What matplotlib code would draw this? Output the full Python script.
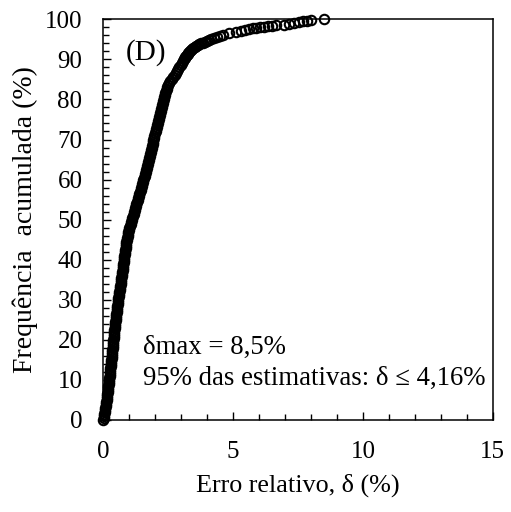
import matplotlib
matplotlib.use("Agg")
import matplotlib.pyplot as plt
from matplotlib.ticker import MultipleLocator

plt.rcParams['font.family'] = ['Liberation Serif', 'DejaVu Serif']

# Cumulative frequency (%) of the estimates and the matching relative error (%)
freq = [
    0, 0.5, 1, 1.5, 2, 2.5, 3, 3.5, 4, 4.5, 5, 5.5, 6, 6.5, 7, 7.5, 8, 8.5, 9, 9.5,
    10, 10.5, 11, 11.5, 12, 12.5, 13, 13.5, 14, 14.5, 15, 15.5, 16, 16.5, 17, 17.5,
    18, 18.5, 19, 19.5, 20, 20.5, 21, 21.5, 22, 22.5, 23, 23.5, 24, 24.5, 25, 25.5,
    26, 26.5, 27, 27.5, 28, 28.5, 29, 29.5, 30, 30.5, 31, 31.5, 32, 32.5, 33, 33.5,
    34, 34.5, 35, 35.5, 36, 36.5, 37, 37.5, 38, 38.5, 39, 39.5, 40, 40.5, 41, 41.5,
    42, 42.5, 43, 43.5, 44, 44.5, 45, 45.5, 46, 46.5, 47, 47.5, 48, 48.5, 49, 49.5,
    50, 50.5, 51, 51.5, 52, 52.5, 53, 53.5, 54, 54.5, 55, 55.5, 56, 56.5, 57, 57.5,
    58, 58.5, 59, 59.5, 60, 60.5, 61, 61.5, 62, 62.5, 63, 63.5, 64, 64.5, 65, 65.5,
    66, 66.5, 67, 67.5, 68, 68.5, 69, 69.5, 70, 70.5, 71, 71.5, 72, 72.5, 73, 73.5,
    74, 74.5, 75, 75.5, 76, 76.5, 77, 77.5, 78, 78.5, 79, 79.5, 80, 80.5, 81, 81.5,
    82, 82.5, 83, 83.5, 84, 84.5, 85, 85.5, 86, 86.5, 87, 87.5, 88, 88.5, 89, 89.5,
    90, 90.25, 90.5, 90.75, 91, 91.25, 91.5, 91.75, 92, 92.25, 92.5, 92.75, 93, 93.25,
    93.5, 93.75, 94, 94.2, 94.4, 94.6, 94.8, 95,
    95.3, 95.6, 95.9, 96.2, 96.5, 96.8, 97.1, 97.4, 97.6, 97.8, 97.95, 98.1, 98.2,
    98.3, 98.4, 98.55, 98.7, 98.9, 99.1, 99.3, 99.5, 99.7, 99.8, 100,
]
delta = [
    0.000, 0.015, 0.030, 0.045, 0.060, 0.072, 0.083, 0.095, 0.107, 0.118, 0.130,
    0.139, 0.148, 0.157, 0.166, 0.175, 0.184, 0.193, 0.202, 0.211,
    0.220, 0.229, 0.238, 0.247, 0.256, 0.265, 0.274, 0.283, 0.292, 0.301,
    0.310, 0.318, 0.326, 0.334, 0.342, 0.350, 0.358, 0.366, 0.374, 0.382,
    0.390, 0.398, 0.406, 0.414, 0.422, 0.430, 0.438, 0.446, 0.454, 0.462,
    0.470, 0.480, 0.490, 0.500, 0.510, 0.520, 0.530, 0.540, 0.550, 0.560,
    0.570, 0.582, 0.594, 0.606, 0.618, 0.630, 0.642, 0.654, 0.666, 0.678,
    0.690, 0.700, 0.710, 0.720, 0.730, 0.740, 0.750, 0.760, 0.770, 0.780,
    0.790, 0.801, 0.812, 0.823, 0.834, 0.845, 0.856, 0.867, 0.878, 0.889,
    0.900, 0.916, 0.932, 0.948, 0.964, 0.980, 1.004, 1.028, 1.052, 1.076,
    1.100, 1.122, 1.144, 1.166, 1.188, 1.210, 1.232, 1.254, 1.276, 1.298,
    1.320, 1.343, 1.365, 1.388, 1.410, 1.433, 1.455, 1.478, 1.500,
    1.522, 1.543, 1.565, 1.587, 1.608, 1.630, 1.652, 1.673, 1.695, 1.717, 1.738,
    1.760, 1.777, 1.794, 1.811, 1.828, 1.845, 1.862, 1.879, 1.896, 1.913,
    1.930, 1.950, 1.970, 1.990, 2.010, 2.030, 2.050, 2.070, 2.090, 2.110,
    2.130, 2.150, 2.170, 2.190, 2.210, 2.230, 2.250, 2.270, 2.290, 2.310,
    2.330, 2.351, 2.373, 2.394, 2.416, 2.437, 2.459, 2.480,
    2.533, 2.586, 2.639, 2.691, 2.744, 2.797, 2.850,
    2.892, 2.933, 2.975, 3.017, 3.058,
    3.100, 3.130, 3.160, 3.190, 3.220, 3.250, 3.280, 3.310, 3.340, 3.370,
    3.400, 3.460, 3.520, 3.575, 3.630, 3.690, 3.750, 3.830, 3.910, 3.990, 4.070, 4.160,
    4.25, 4.38, 4.50, 4.60, 4.85, 5.10, 5.30, 5.45, 5.60, 5.75, 5.90, 6.05, 6.20,
    6.35, 6.50, 6.65, 6.95, 7.15, 7.35, 7.55, 7.70, 7.85, 8.00, 8.50,
]

x_ticks = [0, 5, 10, 15]
y_ticks = [0, 10, 20, 30, 40, 50, 60, 70, 80, 90, 100]

fig = plt.figure(figsize=(5.11, 5.12), dpi=100)
ax = fig.add_axes([0.2022, 0.1797, 0.7620, 0.7826])

ax.plot(delta, freq, linestyle='none', marker='o', markersize=6.8,
        markerfacecolor='none', markeredgecolor='black', markeredgewidth=1.5,
        clip_on=False, zorder=3)

ax.set_xlim(0, 15)
ax.set_ylim(0, 100)
ax.set_xticks(x_ticks)
ax.set_yticks(y_ticks)
ax.xaxis.set_minor_locator(MultipleLocator(1))
ax.yaxis.set_minor_locator(MultipleLocator(2))
ax.tick_params(which='both', direction='in', top=False, right=False,
               labelsize=18, pad=15, width=1.0, colors='black')
ax.tick_params(which='major', length=6)
ax.tick_params(which='minor', length=4)
for s in ax.spines.values():
    s.set_linewidth(1.1)

ax.set_xlabel('Erro relativo, δ (%)', fontsize=18.8, labelpad=8)
ax.set_ylabel('Frequência  acumulada (%)', fontsize=20, labelpad=5)

ax.text(0.85, 91.8, '(D)', fontsize=21, va='center', ha='left')
ax.text(1.54, 16.5, 'δmax = 8,5%', fontsize=19.3, va='baseline', ha='left')
ax.text(1.54, 8.7, '95% das estimativas: δ ≤ 4,16%', fontsize=19.3,
        va='baseline', ha='left')

fig.savefig('out.png', dpi=100)
